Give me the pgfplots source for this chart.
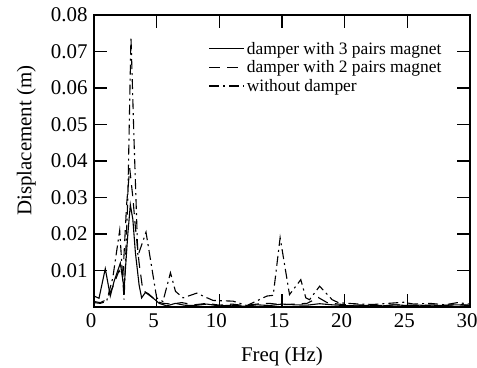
\documentclass[border=0pt]{standalone}
\usepackage{fontspec}
\setmainfont{Liberation Serif}
\usepackage{pgfplots}
\pgfplotsset{compat=1.18}
\begin{document}
\begin{tikzpicture}
\path[use as bounding box] (-94bp,-61bp) rectangle (383bp,307bp);
\begin{axis}[
  at={(0,0)}, anchor=south west,
  scale only axis, width=376bp, height=292bp,
  xmin=0, xmax=30, ymin=0, ymax=0.08,
  xtick={0,5,...,30},
  xticklabels={0,5,10,15,20,25,30},
  ytick={0.01,0.02,0.03,0.04,0.05,0.06,0.07,0.08},
  yticklabels={0.01,0.02,0.03,0.04,0.05,0.06,0.07,0.08},
  scaled y ticks=false,
  tick align=inside,
  major tick length=13bp,
  axis line style={line width=1.4bp},
  tick style={line width=1.2bp, black},
  tick label style={font=\fontsize{21}{24}\selectfont},
  xticklabel style={yshift=-3bp, xshift=-3bp},
  yticklabel style={xshift=-3bp},
  xlabel={Freq (Hz)}, ylabel={Displacement (m)},
  label style={font=\fontsize{21}{24}\selectfont},
  xlabel style={at={(axis description cs:0.5,-0.171)}, anchor=center},
  ylabel style={at={(axis description cs:-0.18,0.57)}, anchor=center},
  legend style={draw=none, fill=none, at={(axis description cs:0.93,0.915)}, anchor=north east,
    font=\fontsize{17.5}{19}\selectfont, row sep=1bp, inner sep=0pt,
    /tikz/every even column/.append style={column sep=1bp}},
  legend cell align=left,
  legend image code/.code={\draw[#1] (0bp,0bp) -- (35bp,0bp);},
  clip=true,
]
\addplot[black, line width=1.1bp] coordinates {
(0,0.0030) (0.4,0.0024) (0.9,0.0105) (1.3,0.0030) (1.6,0.0070) (2.1,0.0120)
(2.4,0.0050) (2.7,0.0200) (2.9,0.0280) (3.1,0.0240) (3.3,0.0150) (3.6,0.0060)
(3.8,0.0025) (4.1,0.0040) (4.7,0.0025) (5.2,0.0010) (5.8,0.0003) (6.5,0.0010)
(7.2,0.0005) (8.0,0.0004) (9.0,0.0008) (10,0.0003) (11,0.0005) (12,0.0002)
(13,0.0006) (14,0.0004) (15,0.0008) (16,0.0006) (17,0.0005) (18,0.0009)
(19,0.0006) (20,0.0004) (21,0.0003) (22,0.0005) (23,0.0003) (24,0.0006)
(25,0.0004) (26,0.0005) (27,0.0003) (28,0.0005) (29,0.0006) (30,0.0004)
};
\addlegendentry{damper with 3 pairs magnet}
\addplot[black, line width=1.1bp, dash pattern=on 11bp off 7bp] coordinates {
(0,0.0015) (0.5,0.0012) (1.0,0.0020) (1.5,0.0055) (2.0,0.0100) (2.3,0.0080)
(2.6,0.0280) (2.85,0.0380) (3.1,0.0300) (3.3,0.0220) (3.6,0.0120) (3.9,0.0045)
(4.4,0.0035) (5.0,0.0015) (5.5,0.0010) (6.2,0.0008) (7,0.0012) (8,0.0006)
(9,0.0010) (10,0.0005) (11,0.0008) (12,0.0004) (13,0.0008) (14,0.0010)
(15,0.0006) (16,0.0008) (17,0.0010) (17.9,0.0026) (18.6,0.0012) (19.5,0.0008)
(20.5,0.0005) (22,0.0006) (23,0.0004) (24,0.0006) (25,0.0005) (26,0.0004)
(27,0.0006) (28,0.0004) (29,0.0007) (30,0.0005)
};
\addlegendentry{damper with 2 pairs magnet}
\addplot[black, line width=1.1bp, dash pattern=on 10bp off 4bp on 2bp off 4bp] coordinates {
(0,0.0012) (0.5,0.0010) (1.0,0.0015) (1.5,0.0080) (2.05,0.0210) (2.4,0.0020)
(2.7,0.0300) (2.95,0.0740) (3.2,0.0450) (3.5,0.0140) (4.15,0.0205) (5.0,0.0025)
(5.5,0.0015) (6.1,0.0094) (6.5,0.0043) (7.1,0.0025) (8.2,0.0038) (8.9,0.0027)
(9.5,0.0018) (11.1,0.0016) (12.2,0.0004) (13.8,0.0030) (14.3,0.0032) (14.85,0.0190)
(15.6,0.0034) (16.5,0.0075) (16.9,0.0025) (17.2,0.0020) (18.0,0.0057) (19.0,0.0020)
(19.5,0.0012) (20.2,0.0010) (21.3,0.0008) (22.3,0.0007) (23.5,0.0010) (24.7,0.0013)
(25.5,0.0008) (26.8,0.0010) (28,0.0006) (29,0.0012) (30,0.0008)
};
\addlegendentry{without damper}
\end{axis}
\end{tikzpicture}
\end{document}
